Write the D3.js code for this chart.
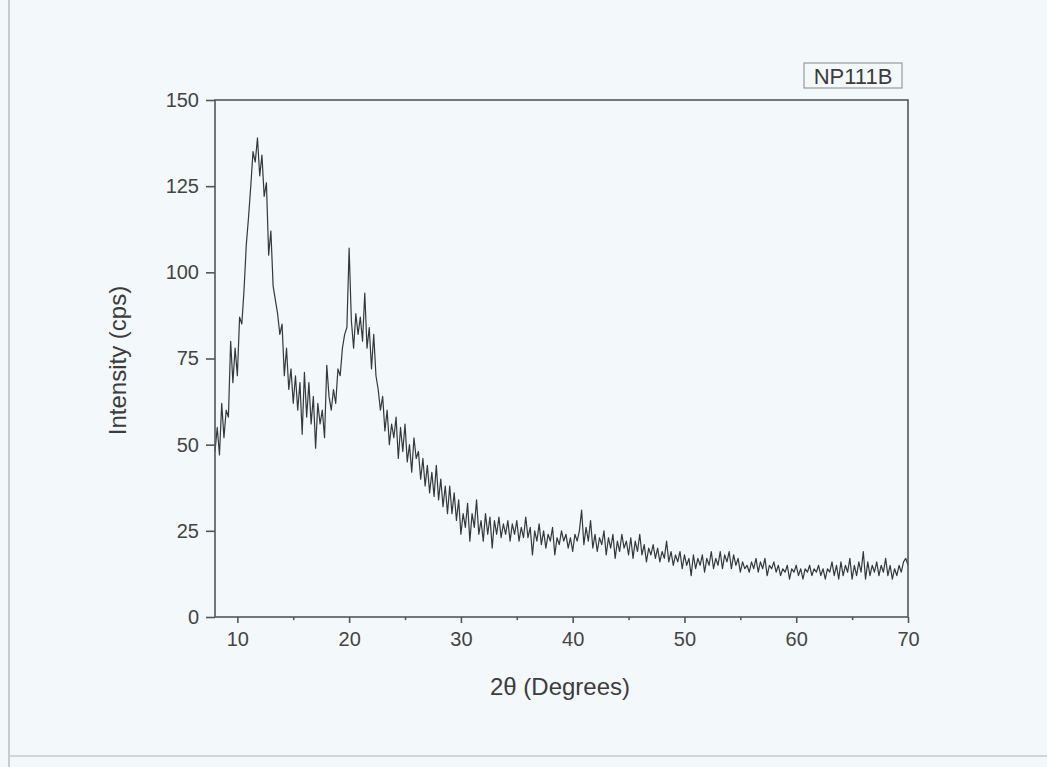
<!DOCTYPE html>
<html>
<head>
<meta charset="utf-8">
<script src="https://cdn.jsdelivr.net/npm/d3@7"></script>
<style>
  html, body { margin: 0; padding: 0; background: #f3f8fb; }
  svg { display: block; }
  text { font-family: "Liberation Sans", Arial, sans-serif; fill: #3c3c3c; }
</style>
</head>
<body>
<div id="chart"></div>
<script>
// scan from 8 to 70 degrees 2theta, one reading every 0.2 degree
var startAngle = 8, stepAngle = 0.2;
var intensity = [
  48, 55, 47, 62, 52, 60, 58, 80, 68, 78,
  70, 87, 85, 95, 108, 116, 125, 135, 132, 139,
  128, 134, 122, 126, 105, 112, 96, 92, 88, 82,
  85, 70, 78, 66, 72, 62, 70, 60, 68, 53,
  71, 58, 68, 56, 64, 49, 62, 56, 60, 52,
  73, 64, 60, 66, 62, 72, 70, 78, 82, 84,
  107, 86, 78, 88, 82, 87, 80, 94, 78, 84,
  72, 82, 70, 66, 60, 64, 54, 60, 50, 56,
  52, 58, 46, 55, 48, 56, 45, 50, 42, 52,
  46, 48, 40, 46, 38, 44, 36, 42, 35, 44,
  34, 40, 32, 38, 30, 38, 30, 36, 28, 34,
  24, 30, 26, 33, 22, 30, 26, 34, 24, 28,
  22, 30, 24, 29, 20, 28, 24, 29, 23, 27,
  24, 28, 22, 27, 24, 28, 22, 26, 23, 29,
  23, 26, 18, 25, 22, 27, 21, 25, 20, 24,
  22, 26, 18, 23, 21, 25, 22, 24, 20, 23,
  19, 24, 22, 25, 31, 21, 26, 22, 28, 20,
  24, 19, 23, 21, 25, 18, 23, 20, 24, 17,
  22, 19, 24, 20, 22, 18, 23, 17, 22, 19,
  24, 18, 21, 16, 20, 18, 21, 17, 20, 16,
  19, 17, 22, 16, 19, 15, 18, 16, 19, 14,
  18, 15, 17, 12, 18, 14, 17, 15, 18, 13,
  17, 15, 19, 14, 17, 15, 19, 14, 18, 16,
  19, 14, 18, 15, 17, 13, 16, 14, 15, 13,
  16, 14, 17, 13, 16, 14, 17, 12, 15, 14,
  16, 13, 15, 12, 14, 13, 15, 11, 14, 13,
  15, 12, 14, 11, 14, 13, 15, 12, 14, 13,
  15, 12, 14, 11, 14, 13, 16, 12, 15, 11,
  16, 12, 15, 13, 17, 11, 15, 12, 16, 13,
  19, 11, 16, 12, 15, 13, 16, 12, 15, 13,
  17, 12, 15, 11, 14, 12, 15, 13, 16, 17,
  15
];
var xTicks = [10, 20, 30, 40, 50, 60, 70];
var xMinorTicks = [15, 25, 35, 45, 55, 65];
var yTicks = [0, 25, 50, 75, 100, 125, 150];
var sampleName = "NP111B";

var W = 1047, H = 767;
var margin = {top: 100, right: 139, bottom: 150, left: 215};
var innerW = W - margin.left - margin.right,
    innerH = H - margin.top - margin.bottom;

var x = d3.scaleLinear().domain([8, 70]).range([0, innerW]);
var y = d3.scaleLinear().domain([0, 150]).range([innerH, 0]);

var svg = d3.select("#chart").append("svg")
    .attr("width", W)
    .attr("height", H);

svg.append("rect").attr("width", W).attr("height", H).attr("fill", "#f3f8fb");

// edges of the scanned sheet
svg.append("line").attr("x1", 9).attr("x2", 9).attr("y1", 0).attr("y2", H)
    .attr("stroke", "#c9cccc").attr("stroke-width", 2);
svg.append("line").attr("x1", 9).attr("x2", W).attr("y1", 756).attr("y2", 756)
    .attr("stroke", "#d3d6d6").attr("stroke-width", 2);

var g = svg.append("g")
    .attr("transform", "translate(" + margin.left + "," + margin.top + ")");

var line = d3.line()
    .x(function(d, i) { return x(startAngle + i * stepAngle); })
    .y(function(d) { return y(d); });

g.append("path")
    .datum(intensity)
    .attr("fill", "none")
    .attr("stroke", "#34383b")
    .attr("stroke-width", 1.2)
    .attr("stroke-linejoin", "round")
    .attr("d", line);

// frame
g.append("rect")
    .attr("width", innerW).attr("height", innerH)
    .attr("fill", "none").attr("stroke", "#555").attr("stroke-width", 1.6);

var xAxis = g.append("g")
    .attr("transform", "translate(0," + innerH + ")")
    .call(d3.axisBottom(x).tickValues(xTicks).tickSize(6).tickPadding(9).tickFormat(d3.format("d")));
var xMinor = g.append("g")
    .attr("transform", "translate(0," + innerH + ")")
    .call(d3.axisBottom(x).tickValues(xMinorTicks).tickSize(3).tickFormat(""));
var yAxis = g.append("g")
    .call(d3.axisLeft(y).tickValues(yTicks).tickSize(9).tickPadding(7).tickFormat(d3.format("d")));

[xAxis, xMinor, yAxis].forEach(function(a) {
  a.select(".domain").remove();
  a.selectAll("line").attr("stroke", "#555").attr("stroke-width", 1.6);
  a.selectAll("text").style("font-size", "20px").style("fill", "#444")
    .style("font-family", "'Liberation Sans', Arial, sans-serif");
});

svg.append("text")
    .attr("transform", "translate(126," + (margin.top + innerH / 2 + 2) + ") rotate(-90)")
    .attr("text-anchor", "middle")
    .style("font-size", "24px")
    .text("Intensity (cps)");

svg.append("text")
    .attr("x", 560)
    .attr("y", 695)
    .attr("text-anchor", "middle")
    .style("font-size", "24px")
    .text("2\u03b8 (Degrees)");

// sample label box
var lg = svg.append("g").attr("transform", "translate(804,63)");
lg.append("rect").attr("width", 98).attr("height", 25)
    .attr("fill", "none").attr("stroke", "#999").attr("stroke-width", 1.2);
lg.append("text").attr("x", 49).attr("y", 20.5).attr("text-anchor", "middle")
    .style("font-size", "22px").text(sampleName);
</script>
</body>
</html>
